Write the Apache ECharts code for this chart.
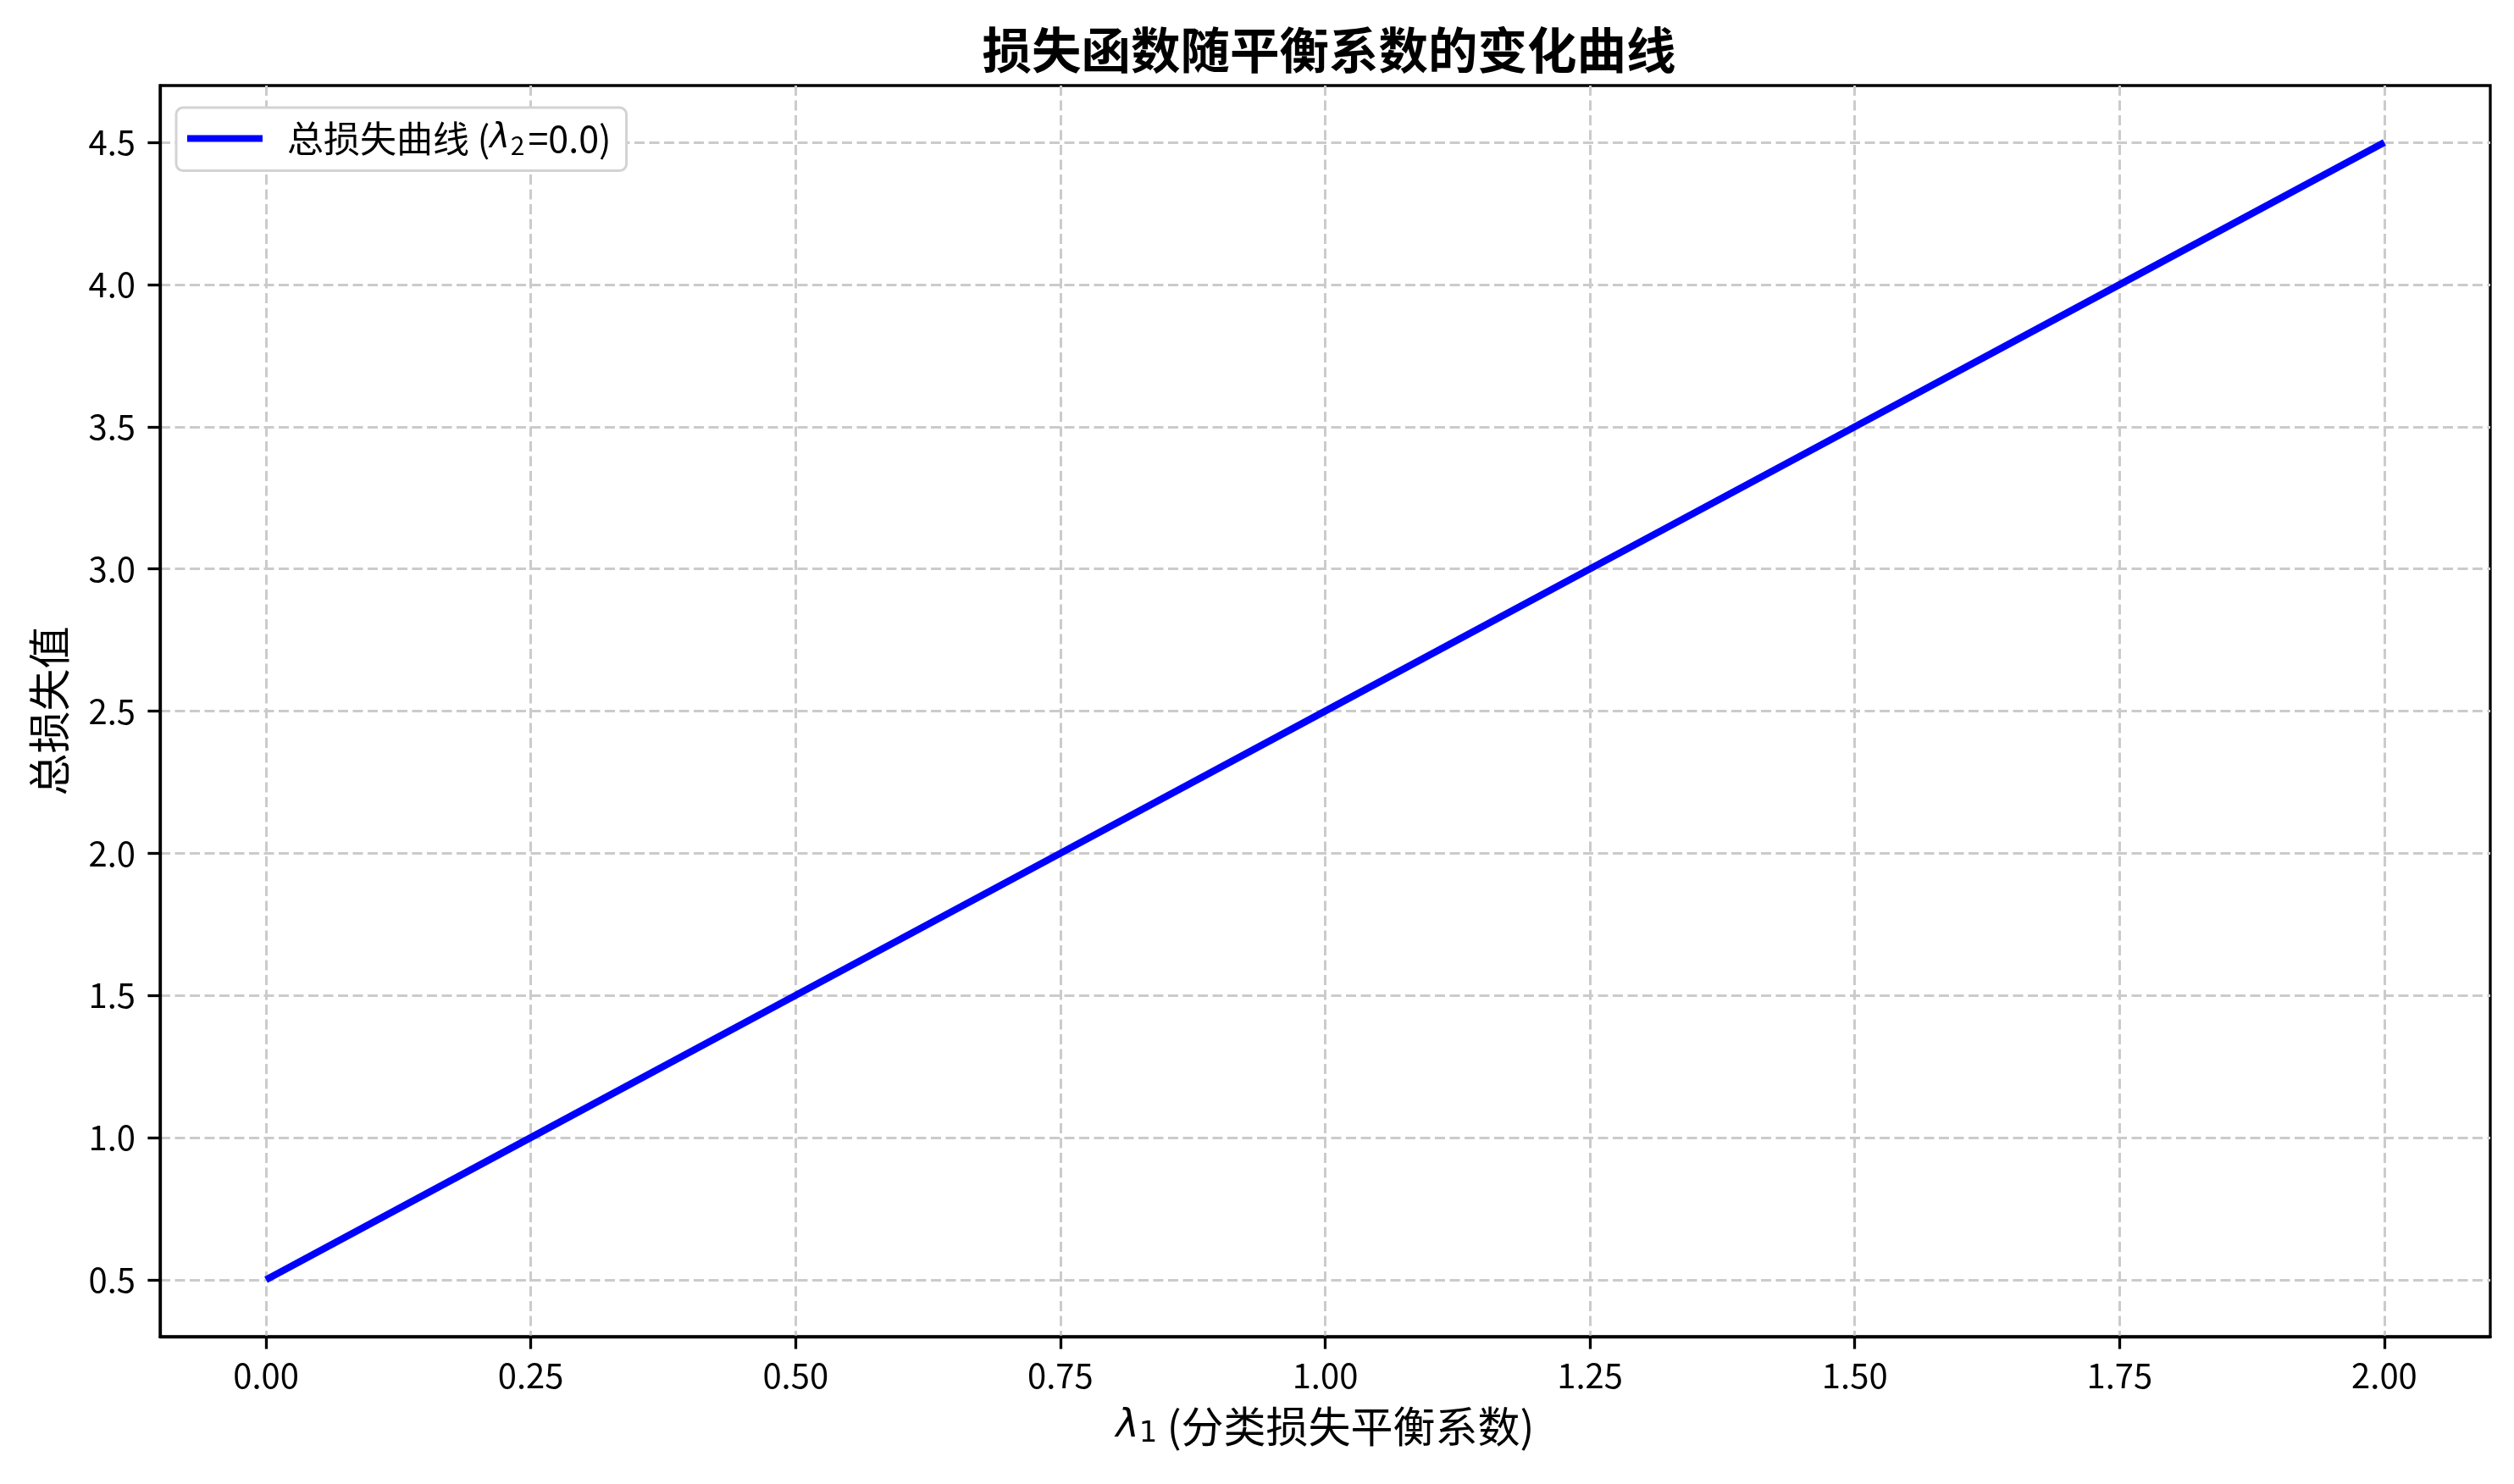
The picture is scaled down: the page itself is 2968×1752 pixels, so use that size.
<!DOCTYPE html>
<html>
<head>
<meta charset="utf-8">
<script src="https://cdn.jsdelivr.net/npm/echarts@6/dist/echarts.min.js"></script>
<style>
html,body{margin:0;padding:0;background:#fff;}
#chart{width:2968px;height:1752px;}
</style>
</head>
<body>
<div id="chart"></div>
<script>
const xValues = [0, 0.25, 0.5, 0.75, 1.0, 1.25, 1.5, 1.75, 2.0];
const lossValues = [0.5, 1.0, 1.5, 2.0, 2.5, 3.0, 3.5, 4.0, 4.5];
const xTicks = [0, 0.25, 0.5, 0.75, 1.0, 1.25, 1.5, 1.75, 2.0];
const yTicks = [0.5, 1.0, 1.5, 2.0, 2.5, 3.0, 3.5, 4.0, 4.5];
const titleText = '损失函数随平衡系数的变化曲线';
const seriesName = '总损失曲线';
const yName = '总损失值';

const CJK = '"Noto Sans CJK SC", "Noto Sans", sans-serif';
const chart = echarts.init(document.getElementById('chart'), null, {renderer: 'canvas'});
const lw = 3.3;
const gridLine = {show: true, lineStyle: {color: '#cbcbcb', width: 3, type: [12, 5.5]}};

chart.setOption({
  backgroundColor: '#fff',
  animation: false,
  title: {
    text: titleText, left: 1564, top: 25, textAlign: 'center',
    textStyle: {fontFamily: CJK, fontWeight: 'bold', fontSize: 58.5, color: '#000'}
  },
  grid: {left: 189, right: 28, top: 101, bottom: 174, show: true, borderColor: '#000', borderWidth: lw, backgroundColor: 'transparent'},
  legend: {
    left: 208, top: 127, orient: 'vertical',
    padding: [15, 18, 15, 13],
    backgroundColor: '#fff', borderColor: '#d3d3d3', borderWidth: 3, borderRadius: 8,
    itemWidth: 89, itemHeight: 8, icon: 'rect',
    data: [{name: seriesName}],
    formatter: function (n) { return '{sp|}' + n + ' ({it|λ}{sub|2}{eq|=0.0)}'; },
    textStyle: {
      fontFamily: CJK, fontSize: 43, color: '#000',
      rich: {
        sp: {width: 24},
        it: {fontFamily: 'DejaVu Sans', fontStyle: 'italic', fontSize: 40},
        sub: {fontFamily: CJK, fontSize: 30, verticalAlign: 'bottom', padding: [16, 2, 0, 1]},
        eq: {fontFamily: CJK, fontSize: 43, padding: [0, 0, 0, 2]}
      }
    }
  },
  xAxis: {
    type: 'value', min: -0.1, max: 2.1,
    name: '{it|λ}{sub|1} (分类损失平衡系数)',
    nameLocation: 'middle', nameGap: 80,
    nameTextStyle: {
      fontFamily: CJK, fontSize: 50, color: '#000',
      rich: {
        it: {fontFamily: 'DejaVu Sans', fontStyle: 'italic', fontSize: 46},
        sub: {fontFamily: 'DejaVu Sans', fontSize: 34, verticalAlign: 'bottom', padding: [18, 0, 0, 0]}
      }
    },
    axisLine: {show: true, onZero: false, lineStyle: {color: '#000', width: lw}},
    axisTick: {show: true, length: 14.6, customValues: xTicks, lineStyle: {color: '#000', width: lw}},
    axisLabel: {customValues: xTicks, margin: 26, fontFamily: CJK, fontSize: 40, color: '#000',
      formatter: v => v.toFixed(2)},
    splitLine: gridLine
  },
  yAxis: {
    type: 'value', min: 0.3, max: 4.7,
    name: yName, nameLocation: 'middle', nameGap: 106, nameRotate: 90,
    nameTextStyle: {fontFamily: CJK, fontSize: 50, color: '#000'},
    axisLine: {show: true, onZero: false, lineStyle: {color: '#000', width: lw}},
    axisTick: {show: true, length: 14.6, customValues: yTicks, lineStyle: {color: '#000', width: lw}},
    axisLabel: {customValues: yTicks, margin: 29, fontFamily: CJK, fontSize: 40, color: '#000',
      formatter: v => v.toFixed(1)},
    splitLine: gridLine
  },
  series: [{
    name: seriesName, type: 'line',
    data: xValues.map((x, i) => [x, lossValues[i]]),
    showSymbol: false, symbol: 'none',
    lineStyle: {color: '#0000ff', width: 8.3},
    itemStyle: {color: '#0000ff'}
  }]
});
</script>
</body>
</html>
